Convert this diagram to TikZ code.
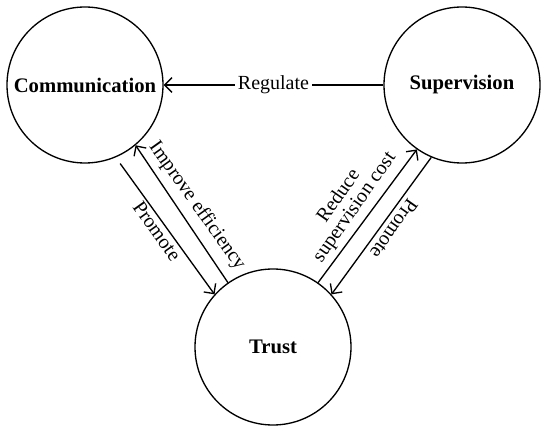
\documentclass[tikz,border=0pt]{standalone}
\usepackage{fontspec}
\setmainfont{Liberation Serif}
\usetikzlibrary{arrows.meta}
\begin{document}
\begin{tikzpicture}[x=0.75pt,y=-0.75pt,
  state/.style={circle,draw,line width=1pt,minimum size=117pt,inner sep=0pt,font=\fontsize{15.5}{18}\selectfont\bfseries},
  arr/.style={line width=1pt,-{Straight Barb[length=5.5pt,width=11pt,line width=1pt]}},
  lab/.style={font=\fontsize{15}{14.5}\selectfont, inner sep=1pt}]
\useasboundingbox (0,0) rectangle (550,431);
\node[state] (comm) at (85,85) {Communication};
\node[state] (sup) at (462,85) {Supervision};
\node[state] (trust) at (273,347) {Trust};
\draw[arr] (sup.west) -- node[lab,fill=white,inner sep=2pt] (reg) {Regulate} (comm.east);
\draw[arr, shorten <=5.7pt] (comm.-67) -- (trust.138);
\draw[arr] (trust.125) -- (comm.-50);
\draw[arr] (trust.55) -- (sup.-125);
\draw[arr] (sup.-113) -- (trust.42);
\node[lab, rotate=-54.5] (imp) at (197,206) {Improve efficiency};
\node[lab, rotate=-54.5] (pro1) at (157,231) {Promote};
\node[lab, rotate=55, align=center] (red) at (347,202) {Reduce\\supervision cost};
\node[lab, rotate=235] (pro2) at (394,229) {Promote};
\end{tikzpicture}
\end{document}
